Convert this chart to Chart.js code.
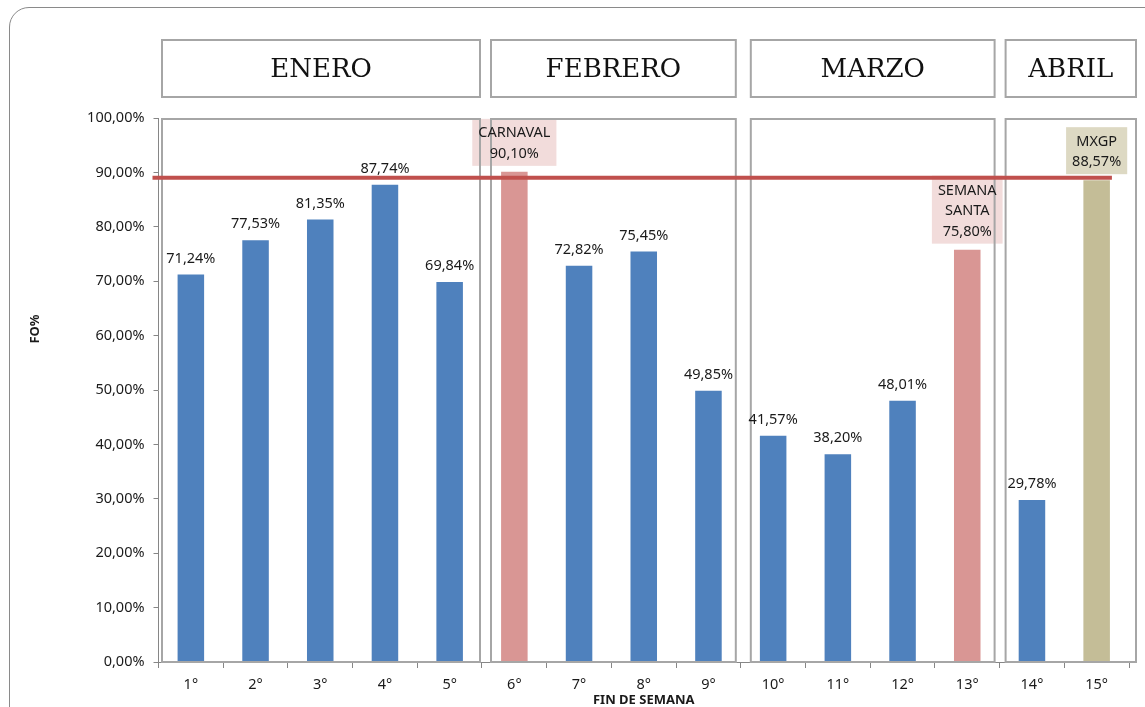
<!DOCTYPE html>
<html lang="es">
<head>
<meta charset="utf-8">
<title>FO% por fin de semana</title>
<script src="https://cdn.jsdelivr.net/npm/chart.js@4.4.1/dist/chart.umd.min.js"></script>
<style>
  html, body { margin: 0; padding: 0; background: #fff; }
  #wrap { position: relative; width: 1145px; height: 707px; overflow: hidden; }
  #frame {
    position: absolute; left: 9px; top: 7px; width: 1170px; height: 740px;
    border: 1px solid #8a8a8a; border-radius: 20px; box-sizing: border-box;
  }
  #chartBox { position: absolute; left: 0; top: 0; width: 1145px; height: 707px; }
</style>
</head>
<body>
<div id="wrap">
  <div id="frame"></div>
  <div id="chartBox"><canvas id="foChart"></canvas></div>
</div>
<script>
// Datos del gráfico
const semanas = ['1°', '2°', '3°', '4°', '5°', '6°', '7°', '8°', '9°', '10°', '11°', '12°', '13°', '14°', '15°'];
const ocupacion = [71.24, 77.53, 81.35, 87.74, 69.84, 90.10, 72.82, 75.45, 49.85, 41.57, 38.20, 48.01, 75.80, 29.78, 88.57];
const eventos = ['', '', '', '', '', 'CARNAVAL', '', '', '', '', '', '', 'SEMANA SANTA', '', 'MXGP'];
const tipoSemana = ['n', 'n', 'n', 'n', 'n', 'f', 'n', 'n', 'n', 'n', 'n', 'n', 'f', 'n', 'm'];
const meses = ['ENERO', 'FEBRERO', 'MARZO', 'ABRIL'];
const semanasPorMes = [5, 4, 4, 2];
const meta = 89;
const yTicks = [0, 10, 20, 30, 40, 50, 60, 70, 80, 90, 100];

// Colores
const colores = {
    n: '#4F81BD',
    f: '#D99694',
    m: '#C4BD97'
};
const fondoEtiqueta = {
    f: '#F2DCDB',
    m: '#DDD9C3'
};
const gris = '#A6A6A6';
const texto = '#1a1a1a';
const fuente = '"Noto Sans", "Open Sans", sans-serif';
const tam = 14.5;

// pequeños ajustes de las cajas de mes (px respecto a los límites de categoría)
const insetIzq = [3.5, 9, 10, 6];
const insetDer = [-2, -5, -5, 7];

function formato(v) {
    return v.toFixed(2).replace('.', ',') + '%';
}

const decoraciones = {
    id: 'decoraciones',
    afterDatasetsDraw(chart) {
        const ctx = chart.ctx;
        const y = chart.scales.y;
        const area = chart.chartArea;
        const meta0 = chart.getDatasetMeta(0);
        const paso = (area.right - area.left) / semanas.length;

        ctx.save();

        // cajas de fondo de eventos
        const cajas = [];
        meta0.data.forEach((bar, i) => {
            if (!eventos[i]) return;
            const lineas = eventos[i].split(' ').concat([formato(ocupacion[i])]);
            ctx.font = tam + 'px ' + fuente;
            const ancho = Math.max(...lineas.map(l => ctx.measureText(l).width)) + 12;
            const alto = lineas.length * 21 + 5;
            const bottom = bar.y - 6;
            const top = bottom - alto;
            ctx.fillStyle = fondoEtiqueta[tipoSemana[i]];
            ctx.fillRect(bar.x - ancho / 2, top, ancho, alto);
            cajas.push({ i, lineas, bottom, cx: bar.x });
        });

        // cajas de meses (encabezado y área)
        let inicio = 0;
        ctx.strokeStyle = gris;
        ctx.lineWidth = 2;
        meses.forEach((mes, k) => {
            const fin = inicio + semanasPorMes[k];
            const x0 = area.left + inicio * paso + insetIzq[k];
            const x1 = area.left + fin * paso + insetDer[k];
            ctx.strokeRect(x0, 40, x1 - x0, 57);
            ctx.strokeRect(x0, y.getPixelForValue(100) + 1, x1 - x0, y.getPixelForValue(0) - y.getPixelForValue(100) - 1);
            ctx.fillStyle = '#111';
            ctx.font = '26px "DejaVu Serif", "Liberation Serif", serif';
            ctx.textAlign = 'center';
            ctx.textBaseline = 'middle';
            ctx.fillText(mes, (x0 + x1) / 2, 70);
            inicio = fin;
        });

        // línea de meta
        const ultima = meta0.data[meta0.data.length - 1];
        const yMeta = y.getPixelForValue(meta);
        ctx.strokeStyle = '#C0504D';
        ctx.lineWidth = 4;
        ctx.beginPath();
        ctx.moveTo(area.left - 6, yMeta);
        ctx.lineTo(ultima.x + ultima.width / 2 + 2, yMeta);
        ctx.stroke();

        // etiquetas de datos
        ctx.fillStyle = texto;
        ctx.font = tam + 'px ' + fuente;
        ctx.textAlign = 'center';
        ctx.textBaseline = 'middle';
        meta0.data.forEach((bar, i) => {
            if (eventos[i]) return;
            ctx.fillText(formato(ocupacion[i]), bar.x, bar.y - 16);
        });
        cajas.forEach(c => {
            const n = c.lineas.length;
            c.lineas.forEach((l, j) => {
                ctx.fillText(l, c.cx, c.bottom - 12 - (n - 1 - j) * 20.5);
            });
        });

        // títulos de ejes
        ctx.font = 'bold 13px ' + fuente;
        ctx.fillText('FIN DE SEMANA', (area.left + area.right) / 2, 700);
        ctx.save();
        ctx.translate(35, 329);
        ctx.rotate(-Math.PI / 2);
        ctx.fillText('FO%', 0, 0);
        ctx.restore();

        ctx.restore();
    }
};

new Chart(document.getElementById('foChart'), {
    type: 'bar',
    data: {
        labels: semanas,
        datasets: [{
            label: 'FO%',
            data: ocupacion,
            backgroundColor: tipoSemana.map(t => colores[t]),
            borderWidth: 0,
            categoryPercentage: 1,
            barPercentage: 0.41
        }]
    },
    options: {
        responsive: true,
        maintainAspectRatio: false,
        animation: false,
        layout: {
            padding: { top: 118, right: 16, bottom: 0, left: 0 }
        },
        plugins: {
            legend: { display: false },
            tooltip: { enabled: false }
        },
        scales: {
            x: {
                grid: {
                    drawOnChartArea: false,
                    drawTicks: true,
                    tickLength: 6,
                    color: '#868686'
                },
                border: { color: '#868686', width: 1 },
                ticks: {
                    color: texto,
                    font: { family: fuente, size: tam },
                    padding: 8,
                    maxRotation: 0,
                    autoSkip: false
                },
                afterFit(scale) { scale.height = 45; }
            },
            y: {
                min: 0,
                max: 100,
                afterBuildTicks(scale) {
                    scale.ticks = yTicks.map(v => ({ value: v }));
                },
                grid: {
                    drawOnChartArea: false,
                    drawTicks: true,
                    tickLength: 5,
                    color: '#868686'
                },
                border: { color: '#868686', width: 1 },
                ticks: {
                    color: texto,
                    font: { family: fuente, size: tam },
                    padding: 9,
                    callback: function(value) {
                        return formato(value);
                    }
                },
                afterFit(scale) { scale.width = 158.5; }
            }
        }
    },
    plugins: [decoraciones]
});
</script>
</body>
</html>
